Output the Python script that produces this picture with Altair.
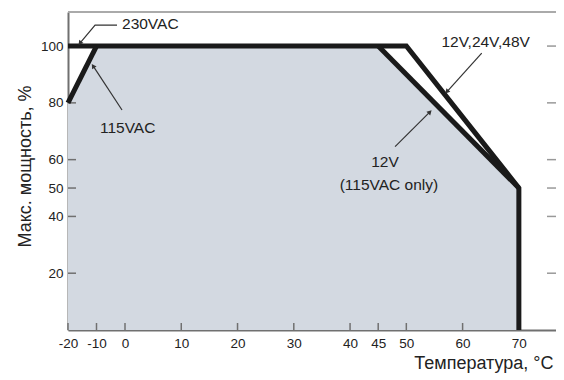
import altair as alt
import pandas as pd

# ---- data ----
x_ticks = [-20, -10, 0, 10, 20, 30, 40, 45, 50, 60, 70]
y_ticks = [20, 40, 50, 60, 80, 100]

area_x = [-20, -10, 45, 70]
area_y = [80, 100, 100, 50]

curve_230_x = [-20, 50, 70, 70]
curve_230_y = [100, 100, 50, 0]
curve_115_x = [-20, -10]
curve_115_y = [80, 100]
curve_12v_x = [45, 70]
curve_12v_y = [100, 50]

leader_230_x = [-2.8, -10.5, -15.8]
leader_230_y = [107.4, 107.4, 101]
leader_115_x = [-1.05, -11.2]
leader_115_y = [77.5, 93]
leader_all_x = [63.4, 57.2]
leader_all_y = [97.5, 83.9]
leader_12v_x = [48, 54.2]
leader_12v_y = [64.6, 76.8]

labels = ["230VAC", "115VAC", "12V,24V,48V", "12V", "(115VAC only)"]
label_x = [-1.05, -8.8, 64.1, 46.2, 46.9]
label_y = [107.6, 71.2, 101.4, 59.3, 51.2]
label_align = ["left", "left", "center", "center", "center"]

arrow_angles = [217, 327, 222, 45]

W, H = 488, 318
FONT = "Liberation Sans"

xs = alt.Scale(domain=[-20, 0, 76.6], range=[0, 57, W], nice=False, zero=False)
ys = alt.Scale(domain=[0, 112], nice=False)

def series(name, xv, yv):
    return pd.DataFrame({"x": xv, "y": yv, "s": name, "o": list(range(len(xv)))})

area_df = pd.DataFrame({"x": area_x, "y": area_y})
curves_df = pd.concat([
    series("230", curve_230_x, curve_230_y),
    series("115", curve_115_x, curve_115_y),
    series("12v", curve_12v_x, curve_12v_y),
])
leaders_df = pd.concat([
    series("a", leader_230_x, leader_230_y),
    series("b", leader_115_x, leader_115_y),
    series("c", leader_all_x, leader_all_y),
    series("d", leader_12v_x, leader_12v_y),
])
tips_df = pd.DataFrame({
    "x": [leader_230_x[-1], leader_115_x[-1], leader_all_x[-1], leader_12v_x[-1]],
    "y": [leader_230_y[-1], leader_115_y[-1], leader_all_y[-1], leader_12v_y[-1]],
    "a": arrow_angles,
})
text_df = pd.DataFrame({"t": labels, "x": label_x, "y": label_y, "al": label_align})
xt_df = pd.DataFrame({"v": x_ticks})
yt_df = pd.DataFrame({"v": y_ticks})

base_x = alt.X("x:Q", scale=xs, axis=alt.Axis(
    values=x_ticks, tickSize=0, labelPadding=6, labelFont=FONT, labelFontSize=13.5,
    labelExpr="datum.value + ''",
    labelColor="#222", domainColor="#707070", domainWidth=2, grid=False,
    title="Температура, °C", titleFont=FONT, titleFontSize=18, titleFontWeight="normal",
    titleColor="#222", titleX=485, titleY=33, titleAlign="right", titleBaseline="middle",
    labelFlush=False, labelOverlap=False))
base_y = alt.Y("y:Q", scale=ys, axis=alt.Axis(
    values=y_ticks, tickSize=0, labelPadding=5, labelFont=FONT, labelFontSize=13.5,
    labelColor="#222", domainColor="#707070", domainWidth=2, grid=False,
    title="Макс. мощность, %", titleFont=FONT, titleFontSize=18, titleFontWeight="normal",
    titleColor="#222", titleX=-43, titleY=154, titleAlign="center", titleBaseline="middle",
    titleAngle=270, labelOverlap=False))

area = alt.Chart(area_df).mark_area(color="#d3d9e1", opacity=1).encode(
    x=base_x, y=base_y)

top_border = alt.Chart(xt_df).mark_rule(color="#aaaaaa", strokeWidth=1.5).encode(
    x=alt.value(0), x2=alt.value(W), y=alt.value(0))
xt = alt.Chart(xt_df).mark_rule(color="#707070", strokeWidth=1.5).encode(
    x=alt.X("v:Q", scale=xs), y=alt.value(H), y2=alt.value(H - 7))
yt = alt.Chart(yt_df).mark_rule(color="#707070", strokeWidth=1.5).encode(
    y=alt.Y("v:Q", scale=ys), x=alt.value(0), x2=alt.value(8))
yt_r = alt.Chart(yt_df).mark_rule(color="#999999", strokeWidth=1.5).encode(
    y=alt.Y("v:Q", scale=ys), x=alt.value(W - 9), x2=alt.value(W))

curves = alt.Chart(curves_df).mark_line(
    color="#1a1a1a", strokeWidth=5, strokeJoin="miter", strokeCap="butt").encode(
    x=alt.X("x:Q", scale=xs), y=alt.Y("y:Q", scale=ys), detail="s:N", order="o:Q")

leaders = alt.Chart(leaders_df).mark_line(color="#333333", strokeWidth=1.2).encode(
    x=alt.X("x:Q", scale=xs), y=alt.Y("y:Q", scale=ys), detail="s:N", order="o:Q")

tips = alt.Chart(tips_df).mark_point(
    shape="triangle-up", filled=True, color="#333333", size=28, opacity=1).encode(
    x=alt.X("x:Q", scale=xs), y=alt.Y("y:Q", scale=ys), angle=alt.Angle("a:Q", scale=None))

texts = []
for al in ["left", "center"]:
    texts.append(alt.Chart(text_df[text_df["al"] == al]).mark_text(
        font=FONT, fontSize=15.5, color="#222", align=al, baseline="middle").encode(
        x=alt.X("x:Q", scale=xs), y=alt.Y("y:Q", scale=ys), text="t:N"))

chart = alt.layer(area, top_border, xt, yt, yt_r, curves, leaders, tips, *texts).properties(
    width=W, height=H,
    autosize=alt.AutoSizeParams(type="none"),
    padding={"left": 60, "top": 4, "right": 0, "bottom": 50},
).configure_view(stroke=None).configure(background="white")

chart.save("out.html", embed_options={"renderer": "svg", "actions": False})
